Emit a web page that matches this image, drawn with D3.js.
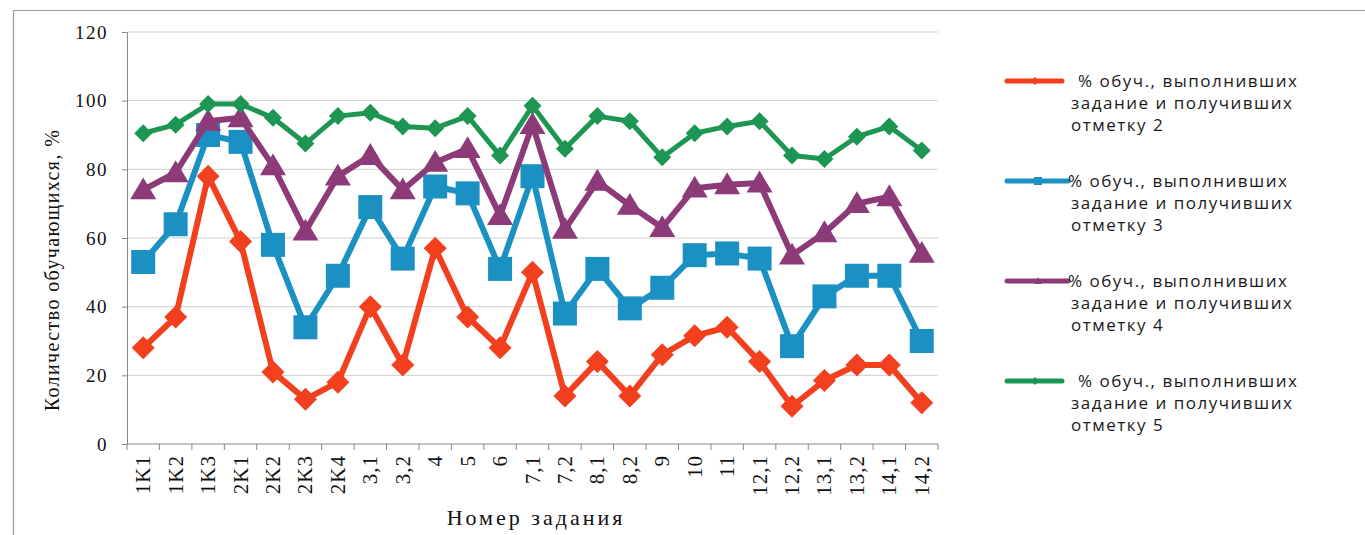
<!DOCTYPE html>
<meta charset="utf-8">
<style>
    body {
        margin: 0;
        background: #fff;
    }

    .grid line {
        stroke: #cfcfcf;
        stroke-width: 1;
    }

    .serif {
        font-family: "Liberation Serif", "Times New Roman", "DejaVu Serif", serif;
        fill: #111;
    }

    .axis text {
        font-family: "Liberation Serif", "Times New Roman", "DejaVu Serif", serif;
        font-size: 19px;
        letter-spacing: 1.5px;
        fill: #111;
    }

    .legend text {
        font-family: "Open Sans", sans-serif;
        font-size: 17px;
        letter-spacing: 1.5px;
        fill: #1a1a1a;
    }
</style>

<body>
    <svg width="1365" height="535"></svg>
    <script src="https://d3js.org/d3.v7.min.js"></script>
    <script>
        var tasks = ["1K1", "1K2", "1K3", "2K1", "2K2", "2K3", "2K4", "3,1", "3,2", "4", "5", "6", "7,1", "7,2",
            "8,1", "8,2", "9", "10", "11", "12,1", "12,2", "13,1", "13,2", "14,1", "14,2"];

        var mark2 = [28, 37, 78, 59, 21, 13, 18, 40, 23, 57, 37, 28, 50, 14, 24, 14, 26, 31.5, 34, 24, 11, 18.5, 23, 23, 12];
        var mark3 = [53, 64, 90, 88, 58, 34, 49, 69, 54, 75, 73, 51, 78, 38, 51, 39.5, 45.5, 55, 55.5, 54, 28.5, 43, 49, 49, 30];
        var mark4 = [74, 79, 94, 95, 81, 62, 78, 84, 74, 82, 86, 66.5, 93, 62.5, 76.5, 69.5, 63, 74.5, 75.5, 76, 55, 61.5, 70, 72, 55.5];
        var mark5 = [90.5, 93, 99, 99, 95, 87.5, 95.5, 96.5, 92.5, 92, 95.5, 84, 98.5, 86, 95.5, 94, 83.5, 90.5, 92.5, 94, 84, 83, 89.5, 92.5, 85.5];

        var yTicks = [0, 20, 40, 60, 80, 100, 120];
        var legendText = ["% обуч.,  выполнивших", "задание и получивших"];

        var series = [
            { values: mark2, color: "#f2401f", shape: "diamond", size: 23, width: 6, last: "отметку 2" },
            { values: mark3, color: "#1b91c3", shape: "square", size: 24, width: 6, last: "отметку 3" },
            { values: mark4, color: "#8d3b78", shape: "triangle", size: 26, width: 6, last: "отметку 4" },
            { values: mark5, color: "#1e9653", shape: "diamond", size: 18, width: 5, last: "отметку 5" }
        ];

        var svg = d3.select("svg");

        // chart frame (continues off the page on the right and bottom)
        svg.append("path")
            .attr("d", "M13.5,540 V10.5 H1370")
            .attr("fill", "none")
            .attr("stroke", "#9a9a9a")
            .attr("stroke-width", 1.2);

        var x = d3.scaleBand().domain(tasks).range([127, 938]);
        var y = d3.scaleLinear().domain([0, 120]).range([444, 32]);

        // gridlines
        svg.append("g").attr("class", "grid")
            .selectAll("line")
            .data(yTicks.slice(1))
            .enter().append("line")
            .attr("x1", 127).attr("x2", 938)
            .attr("y1", function(d) { return y(d); })
            .attr("y2", function(d) { return y(d); });

        // y axis
        var yAxis = svg.append("g").attr("class", "axis")
            .attr("transform", "translate(127,0)")
            .call(d3.axisLeft(y).tickValues(yTicks).tickSize(5).tickPadding(14));
        yAxis.attr("font-family", null).attr("font-size", null);
        yAxis.selectAll("line, path").attr("stroke", "#888");

        // x axis with ticks between categories
        var xAxis = svg.append("g").attr("class", "axis");
        xAxis.append("line")
            .attr("x1", 127).attr("x2", 938)
            .attr("y1", y(0)).attr("y2", y(0))
            .attr("stroke", "#888");
        xAxis.selectAll(".tick")
            .data(tasks.concat(["end"]))
            .enter().append("line")
            .attr("x1", function(d, i) { return x.range()[0] + i * x.step(); })
            .attr("x2", function(d, i) { return x.range()[0] + i * x.step(); })
            .attr("y1", y(0)).attr("y2", y(0) + 6)
            .attr("stroke", "#888");
        xAxis.selectAll("text")
            .data(tasks)
            .enter().append("text")
            .attr("transform", function(d) {
                return "translate(" + (x(d) + x.bandwidth() / 2 + 7) + "," + (y(0) + 11) + ") rotate(-90)";
            })
            .attr("text-anchor", "end")
            .style("font-size", "21px")
            .style("letter-spacing", "1px")
            .text(function(d) { return d; });

        // axis titles
        svg.append("text")
            .attr("class", "serif")
            .attr("x", 536).attr("y", 525)
            .attr("text-anchor", "middle")
            .style("font-size", "22px")
            .style("letter-spacing", "3px")
            .text("Номер задания");

        svg.append("text")
            .attr("class", "serif")
            .attr("transform", "translate(59,270) rotate(-90)")
            .attr("text-anchor", "middle")
            .style("font-size", "20px")
            .style("letter-spacing", "1.4px")
            .text("Количество обучающихся, %");

        // lines and markers
        var line = d3.line()
            .x(function(d, i) { return x(tasks[i]) + x.bandwidth() / 2; })
            .y(function(d) { return y(d); });

        function shapePath(shape, s) {
            var h = s / 2;
            if (shape == "diamond") return "M0," + (-h) + "L" + h + ",0L0," + h + "L" + (-h) + ",0Z";
            if (shape == "square") return "M" + (-h) + "," + (-h) + "H" + h + "V" + h + "H" + (-h) + "Z";
            return "M0," + (-s * 0.48) + "L" + h + "," + (s * 0.36) + "L" + (-h) + "," + (s * 0.36) + "Z";
        }

        series.forEach(function(s) {
            var g = svg.append("g");
            g.append("path")
                .datum(s.values)
                .attr("fill", "none")
                .attr("stroke", s.color)
                .attr("stroke-width", s.width)
                .attr("stroke-linejoin", "round")
                .attr("d", line);
            g.selectAll(".mk")
                .data(s.values)
                .enter().append("path")
                .attr("transform", function(d, i) {
                    return "translate(" + (x(tasks[i]) + x.bandwidth() / 2) + "," + y(d) + ")";
                })
                .attr("d", shapePath(s.shape, s.size))
                .attr("fill", s.color);
        });

        // legend
        var legend = svg.append("g").attr("class", "legend");
        series.forEach(function(s, i) {
            var ly = 81 + i * 100;
            var lg = legend.append("g").attr("transform", "translate(0," + ly + ")");
            lg.append("line")
                .attr("x1", 1007).attr("x2", i == 0 || i == 3 ? 1062 : 1068)
                .attr("y1", 0).attr("y2", 0)
                .attr("stroke", s.color)
                .attr("stroke-width", 5)
                .attr("stroke-linecap", "round");
            lg.append("path")
                .attr("transform", "translate(" + (i == 0 || i == 3 ? 1035 : 1038) + ",0)")
                .attr("d", shapePath(s.shape, 8))
                .attr("fill", s.color);
            var lines = legendText.concat([s.last]);
            lines.forEach(function(t, j) {
                lg.append("text")
                    .attr("x", j == 0 ? (i == 0 || i == 3 ? 1078 : 1068) : 1071)
                    .attr("y", 6 + j * 22)
                    .text(t);
            });
        });
    </script>

</body>
